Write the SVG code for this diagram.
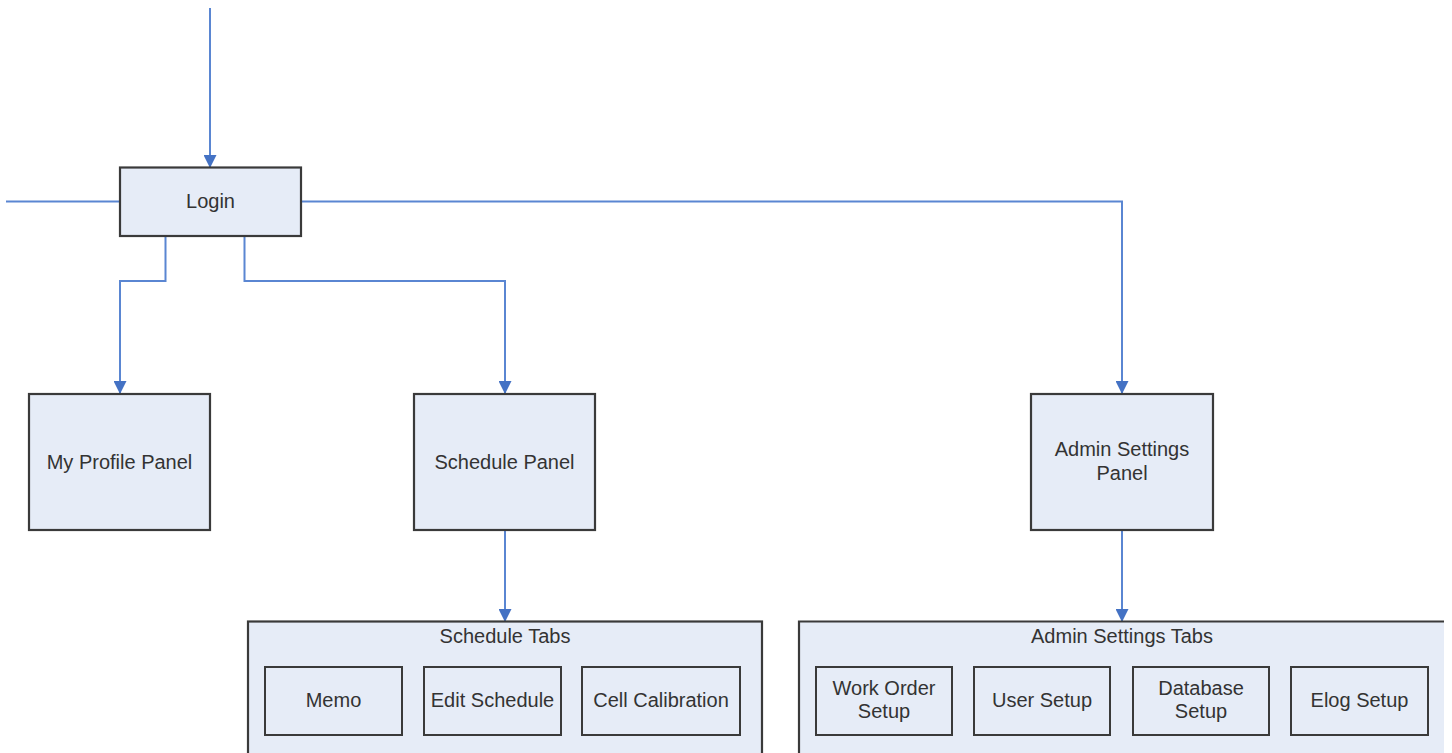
<svg xmlns="http://www.w3.org/2000/svg" width="1452" height="753" viewBox="0 0 1452 753">
<style>
.box{fill:#e6ecf7;stroke:#3a3a3a;stroke-width:2.2}
.sub{fill:none;stroke:#3a3a3a;stroke-width:2}
.t{font-family:"Liberation Sans",Arial,sans-serif;font-size:20px;fill:#333;text-anchor:middle}
.c{fill:none;stroke:#5a86d2;stroke-width:2}
</style>
<defs>
<marker id="ah" markerWidth="13" markerHeight="13" refX="12" refY="6.5" orient="auto" markerUnits="userSpaceOnUse">
<path d="M0,0 L13,6.5 L0,13 Z" fill="#4472c4"/>
</marker>
</defs>
<rect width="1452" height="753" fill="#ffffff"/>
<g id="connectors">
<path class="c" d="M210,8 V167" marker-end="url(#ah)"/>
<path class="c" d="M6,201.5 H120"/>
<path class="c" d="M301,201.5 H1122 V393" marker-end="url(#ah)"/>
<path class="c" d="M165.5,236 V281 H120 V393" marker-end="url(#ah)"/>
<path class="c" d="M244.5,236 V281 H505 V393" marker-end="url(#ah)"/>
<path class="c" d="M505,530 V621" marker-end="url(#ah)"/>
<path class="c" d="M1122,530 V621" marker-end="url(#ah)"/>
</g>
<g id="login">
<rect class="box" x="120" y="167.5" width="181" height="68.5"/>
<text class="t" x="210.5" y="208">Login</text>
</g>
<g id="my-profile-panel">
<rect class="box" x="29" y="394" width="181" height="136"/>
<text class="t" x="119.5" y="469">My Profile Panel</text>
</g>
<g id="schedule-panel">
<rect class="box" x="414" y="394" width="181" height="136"/>
<text class="t" x="504.5" y="469">Schedule Panel</text>
</g>
<g id="admin-settings-panel">
<rect class="box" x="1031" y="394" width="182" height="136"/>
<text class="t" x="1122" y="456">Admin Settings</text>
<text class="t" x="1122" y="480">Panel</text>
</g>
<g id="schedule-tabs">
<rect class="box" x="248" y="621.5" width="514" height="140"/>
<text class="t" x="505" y="643">Schedule Tabs</text>
<g id="memo">
<rect class="sub" x="265" y="667" width="137" height="68"/>
<text class="t" x="333.5" y="707">Memo</text>
</g>
<g id="edit-schedule">
<rect class="sub" x="424" y="667" width="137" height="68"/>
<text class="t" x="492.5" y="707">Edit Schedule</text>
</g>
<g id="cell-calibration">
<rect class="sub" x="582" y="667" width="158" height="68"/>
<text class="t" x="661" y="707">Cell Calibration</text>
</g>
</g>
<g id="admin-settings-tabs">
<rect x="799" y="621.5" width="645" height="140" fill="#e6ecf7"/>
<path d="M799,761 V621.5 H1444" fill="none" stroke="#3a3a3a" stroke-width="2.2"/>
<text class="t" x="1122" y="643">Admin Settings Tabs</text>
<g id="work-order-setup">
<rect class="sub" x="816" y="667" width="136" height="68"/>
<text class="t" x="884" y="695">Work Order</text>
<text class="t" x="884" y="718">Setup</text>
</g>
<g id="user-setup">
<rect class="sub" x="974" y="667" width="136" height="68"/>
<text class="t" x="1042" y="707">User Setup</text>
</g>
<g id="database-setup">
<rect class="sub" x="1133" y="667" width="136" height="68"/>
<text class="t" x="1201" y="695">Database</text>
<text class="t" x="1201" y="718">Setup</text>
</g>
<g id="elog-setup">
<rect class="sub" x="1291" y="667" width="137" height="68"/>
<text class="t" x="1359.5" y="707">Elog Setup</text>
</g>
</g>
</svg>
